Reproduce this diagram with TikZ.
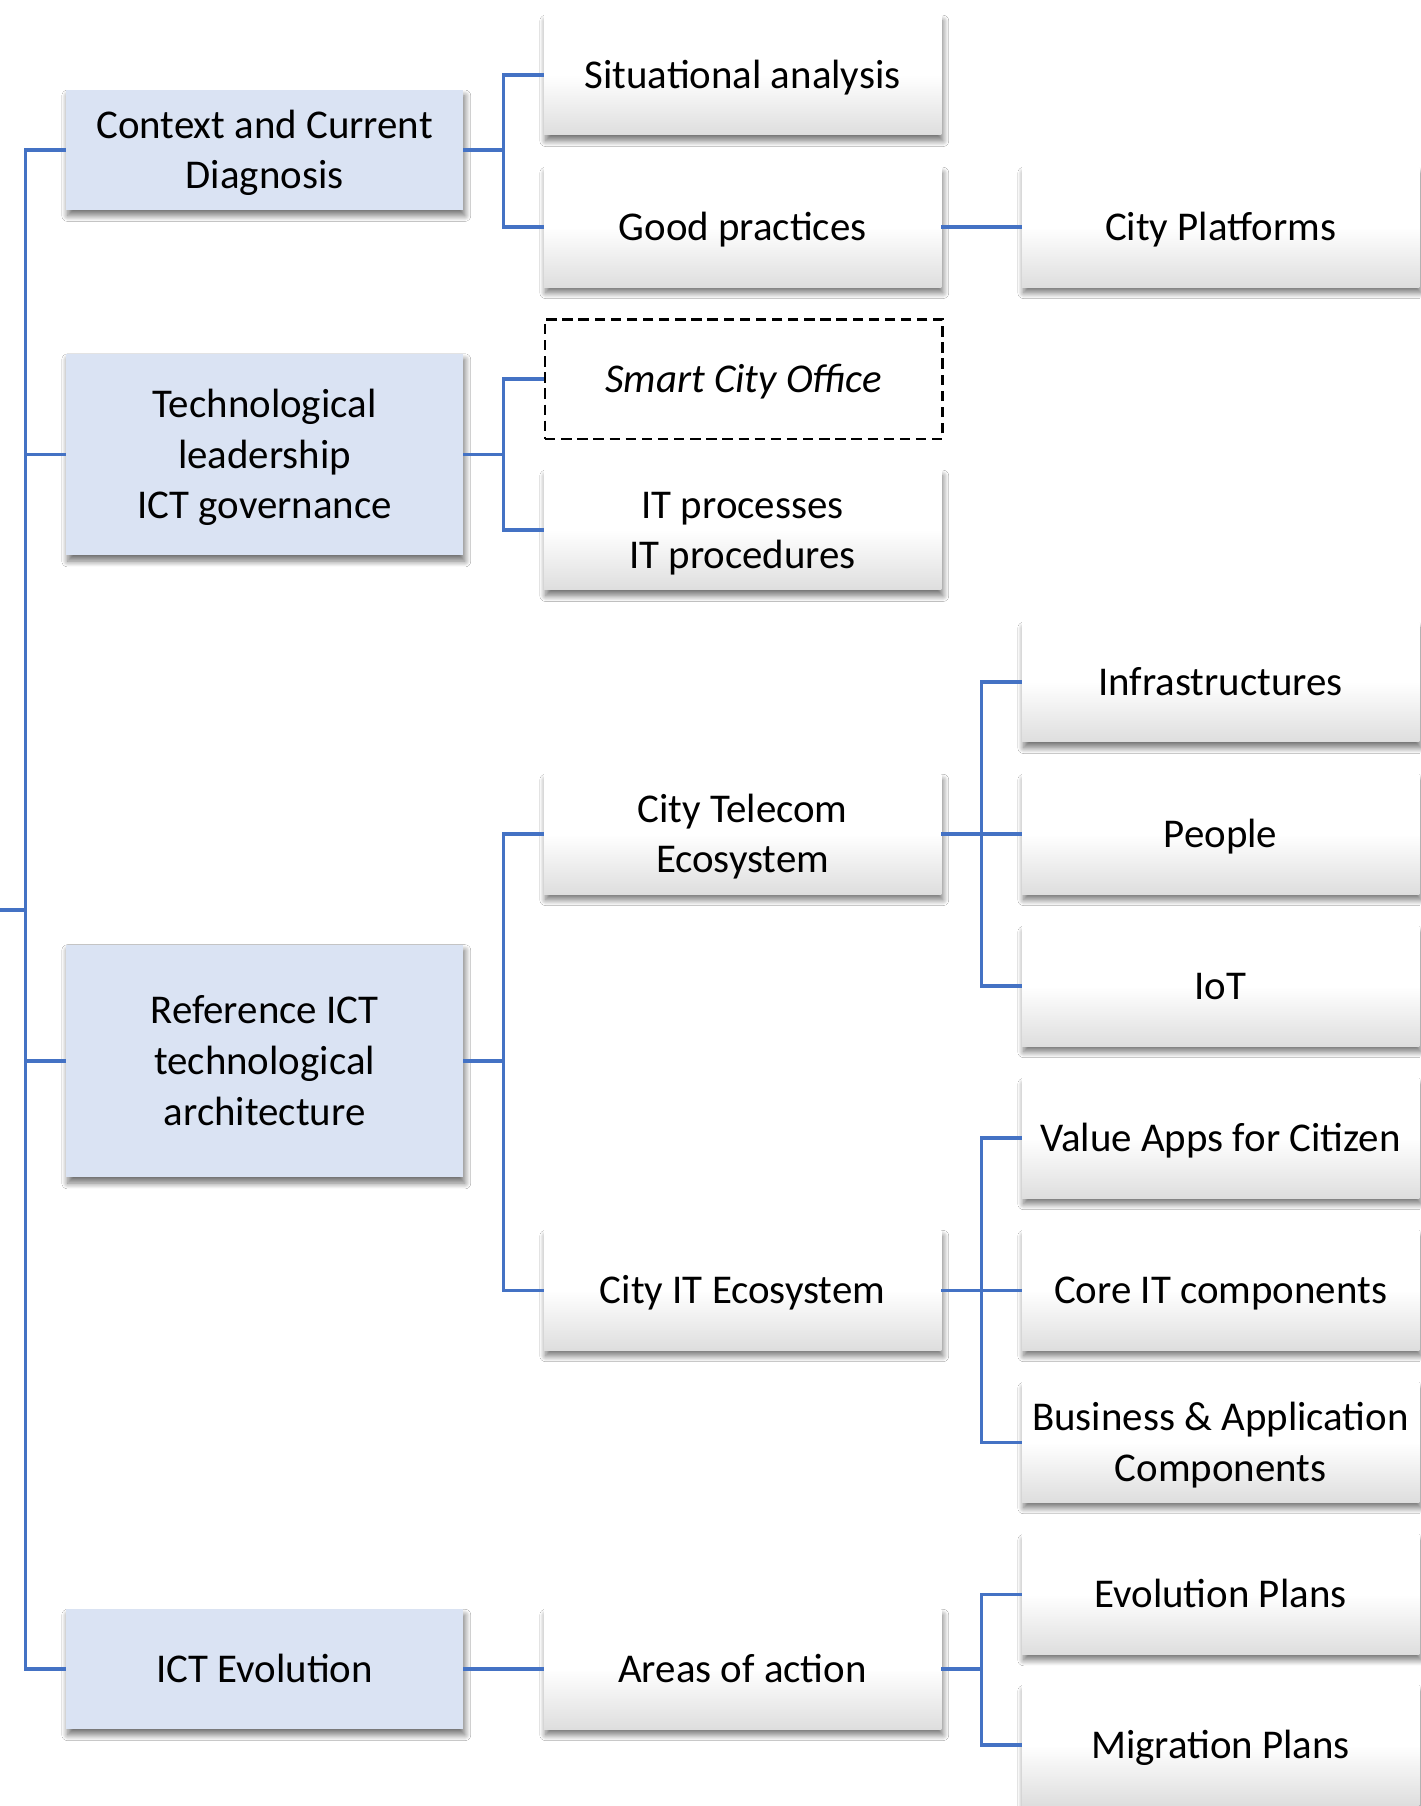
\documentclass[tikz,border=0pt]{standalone}
\usepackage{fontspec}
\setmainfont{Carlito}
\usetikzlibrary{shadows.blur}
\definecolor{lineblue}{HTML}{4472C4}
\definecolor{boxblue}{HTML}{DAE3F3}
\newcommand{\firstline}{\rule{0pt}{32.4pt}}
\begin{document}
\begin{tikzpicture}[x=1pt,y=-1pt,
  every node/.style={font=\fontsize{35.5}{44}\selectfont, align=center, inner sep=0pt,
    execute at begin node={\rule{0pt}{32.4pt}},
    execute at end node={\rule[-9pt]{0pt}{9pt}}},
  base/.style={rectangle, minimum width=345pt, minimum height=104pt, anchor=north west},
  shad/.style={blur shadow={shadow xshift=1.5pt, shadow yshift=-5pt, shadow blur radius=5pt, shadow blur steps=14, shadow opacity=55}},
  lvlone/.style={base, fill=boxblue, shad},
  lvltwo/.style={base, top color=white, bottom color=black!13, middle color=white, shad},
  dashbox/.style={base, draw=black, dash pattern=on 9pt off 5pt, line width=2.4pt, fill=white},
  conn/.style={draw=lineblue, line width=3pt}
]
\useasboundingbox[fill=white] (0,0) rectangle (1233,1568);

% level 1
\node[lvlone] (ctx) at (57,78) {\firstline Context and Current\\Diagnosis};
\node[lvlone, minimum height=175pt] (tech) at (57,307) {\firstline Technological\\leadership\\ICT governance};
\node[lvlone, minimum height=202pt] (ref) at (57,820) {\firstline Reference ICT\\technological\\architecture};
\node[lvlone] (evo) at (57,1397) {ICT Evolution};

% level 2
\node[lvltwo] (sit) at (472,13) {Situational analysis};
\node[lvltwo] (good) at (472,145) {Good practices};
\node[dashbox] (smart) at (472,276) {\itshape Smart City Office};
\node[lvltwo] (itp) at (472,408) {\firstline IT processes\\IT procedures};
\node[lvltwo] (tel) at (472,672) {\firstline City Telecom\\Ecosystem};
\node[lvltwo] (itx) at (472,1068) {City IT Ecosystem};
\node[lvltwo] (areas) at (472,1397) {Areas of action};

% level 3
\node[lvltwo] (plat) at (887,145) {City Platforms};
\node[lvltwo] (infra) at (887,540) {Infrastructures};
\node[lvltwo] (people) at (887,672) {People};
\node[lvltwo] (iot) at (887,804) {IoT};
\node[lvltwo] (vapps) at (887,936) {Value Apps for Citizen};
\node[lvltwo] (core) at (887,1068) {Core IT components};
\node[lvltwo] (bus) at (887,1200) {\firstline Business \& Application\\Components};
\node[lvltwo] (evop) at (887,1332) {Evolution Plans};
\node[lvltwo] (mig) at (887,1463) {Migration Plans};

% connectors: trunk
\coordinate (root) at (0,790);
\draw[conn] (root) -- ++(22,0);
\draw[conn] (ctx.west) -- ++(-35,0) |- (evo.west);
\draw[conn] (tech.west) -- ++(-35,0);
\draw[conn] (ref.west) -- ++(-35,0);

% level 1 -> level 2
\draw[conn] (ctx.east) -- ++(35,0);
\draw[conn] (sit.west) -- ++(-35,0) |- (good.west);
\draw[conn] (tech.east) -- ++(35,0);
\draw[conn] (smart.west) -- ++(-35,0) |- (itp.west);
\draw[conn] (ref.east) -- ++(35,0);
\draw[conn] (tel.west) -- ++(-35,0) |- (itx.west);
\draw[conn] (evo.east) -- (areas.west);

% level 2 -> level 3
\draw[conn] (good.east) -- (plat.west);
\draw[conn] (tel.east) -- (people.west);
\draw[conn] (infra.west) -- ++(-35,0) |- (iot.west);
\draw[conn] (itx.east) -- (core.west);
\draw[conn] (vapps.west) -- ++(-35,0) |- (bus.west);
\draw[conn] (areas.east) -- ++(35,0);
\draw[conn] (evop.west) -- ++(-35,0) |- (mig.west);
\end{tikzpicture}
\end{document}
